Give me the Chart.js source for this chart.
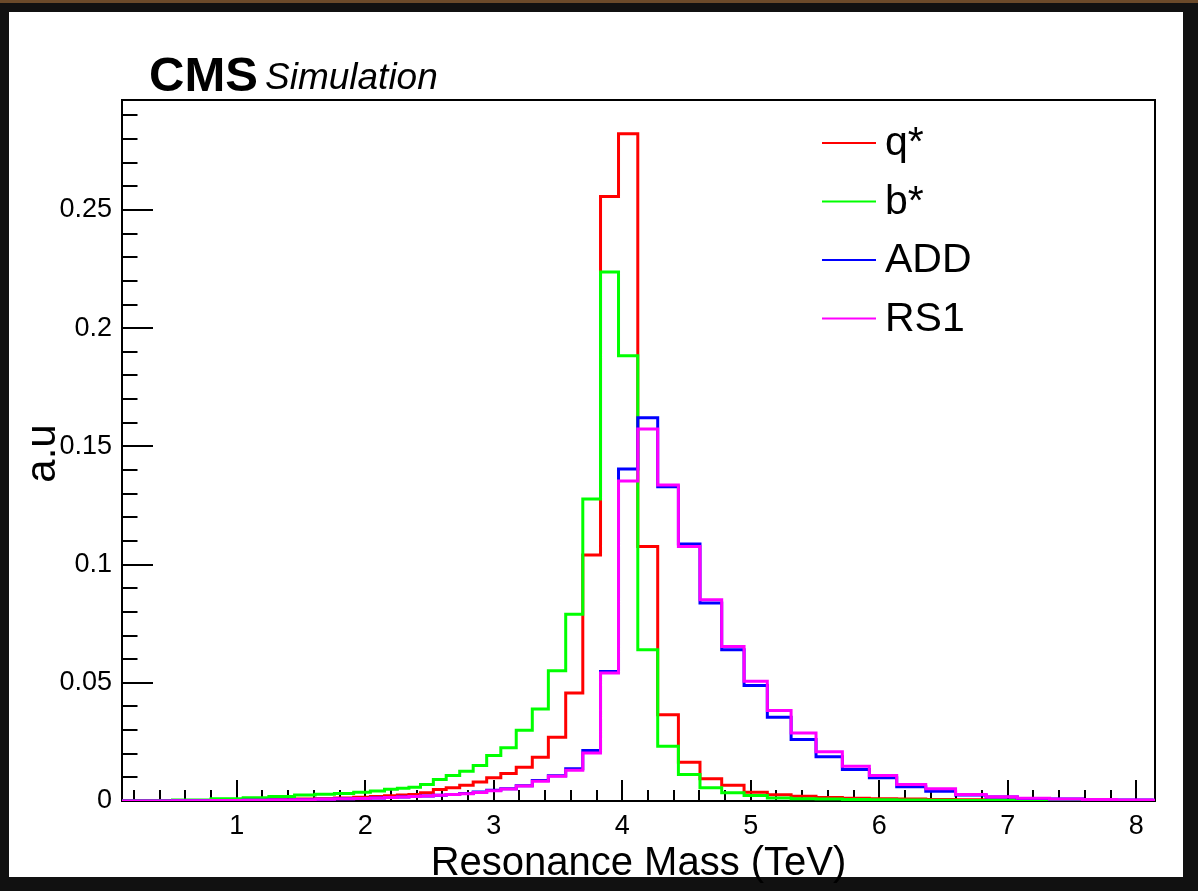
<!DOCTYPE html>
<html>
<head>
<meta charset="utf-8">
<script src="https://cdn.jsdelivr.net/npm/chart.js@4.4.0/dist/chart.umd.min.js"></script>
<style>
html,body{margin:0;padding:0;background:#fff;}
#wrap{position:relative;width:1198px;height:891px;overflow:hidden;}
canvas{display:block;}
</style>
</head>
<body>
<div id="wrap"><canvas id="c" width="1198" height="891"></canvas></div>
<script>
// ---- data (TeV bin edges, normalised contents) ----
const binEdges = [0.107, 0.5, 0.8, 1.05, 1.25, 1.45, 1.61, 1.76, 1.91, 2.04, 2.15, 2.25, 2.34, 2.43,
  2.53, 2.63, 2.735, 2.84, 2.945, 3.055, 3.175, 3.30, 3.425, 3.56, 3.693, 3.831, 3.971, 4.121, 4.276,
  4.437, 4.605, 4.774, 4.948, 5.129, 5.314, 5.508, 5.713, 5.923, 6.136, 6.362, 6.594, 6.832, 7.075,
  7.325, 7.582, 7.846, 8.12, 8.4];

const qStarValues = [0.0000, 0.0001, 0.0002, 0.0003, 0.0005, 0.0008, 0.0010, 0.0013, 0.0016, 0.0019, 0.0022, 0.0025, 0.0028, 0.0035,
  0.0049, 0.0056, 0.0067, 0.0080, 0.0098, 0.0116, 0.0143, 0.0185, 0.0270, 0.0457, 0.1041, 0.2557, 0.2822, 0.1076,
  0.0365, 0.0164, 0.0094, 0.0067, 0.0037, 0.0026, 0.0020, 0.0015, 0.0012, 0.0010, 0.0008, 0.0006, 0.0005, 0.0004,
  0.0003, 0.0002, 0.0002, 0.0001, 0.0001];

const bStarValues = [0.0001, 0.0004, 0.0009, 0.0014, 0.0019, 0.0025, 0.0029, 0.0032, 0.0037, 0.0042, 0.0050, 0.0054, 0.0058, 0.0070,
  0.0091, 0.0108, 0.0126, 0.0150, 0.0192, 0.0225, 0.0299, 0.0389, 0.0551, 0.0790, 0.1277, 0.2237, 0.1883, 0.0640,
  0.0232, 0.0112, 0.0056, 0.0035, 0.0023, 0.0013, 0.0010, 0.0008, 0.0006, 0.0005, 0.0004, 0.0003, 0.0002, 0.0002,
  0.0001, 0.0001, 0.0001, 0.0001, 0.0000];

const addValues = [0.0000, 0.0001, 0.0002, 0.0003, 0.0004, 0.0005, 0.0007, 0.0009, 0.0011, 0.0013, 0.0015, 0.0017, 0.0019, 0.0021,
  0.0024, 0.0028, 0.0032, 0.0038, 0.0045, 0.0052, 0.0065, 0.0087, 0.0107, 0.0136, 0.0214, 0.0548, 0.1404, 0.1621,
  0.1329, 0.1087, 0.0837, 0.0640, 0.0488, 0.0354, 0.0260, 0.0187, 0.0133, 0.0098, 0.0060, 0.0041, 0.0025, 0.0017,
  0.0011, 0.0008, 0.0005, 0.0004, 0.0003];

const rs1Values = [0.0000, 0.0001, 0.0002, 0.0003, 0.0004, 0.0005, 0.0007, 0.0009, 0.0011, 0.0013, 0.0015, 0.0017, 0.0019, 0.0021,
  0.0024, 0.0027, 0.0031, 0.0036, 0.0043, 0.0051, 0.0063, 0.0084, 0.0105, 0.0130, 0.0203, 0.0541, 0.1353, 0.1573,
  0.1337, 0.1076, 0.0851, 0.0654, 0.0506, 0.0383, 0.0288, 0.0208, 0.0147, 0.0108, 0.0070, 0.0052, 0.0027, 0.0018,
  0.0012, 0.0008, 0.0006, 0.0004, 0.0003];

const seriesLabels = ['q*', 'b*', 'ADD', 'RS1'];
const xTickValues = [1, 2, 3, 4, 5, 6, 7, 8];
const yTickValues = [0, 0.05, 0.1, 0.15, 0.2, 0.25];
const xRange = [0.107, 8.146];
const yRange = [0, 0.2965];

// ---- build step outlines from the bin arrays ----
function histPoints(edges, vals) {
  const pts = [];
  for (let i = 0; i < vals.length; i++) {
    pts.push({x: edges[i], y: vals[i]});
    pts.push({x: edges[i + 1], y: vals[i]});
  }
  return pts;
}

const colors = ['#ff0000', '#00ff00', '#0000ff', '#ff00ff'];
const allValues = [qStarValues, bStarValues, addValues, rs1Values];
const FONT = '"Liberation Sans", Arial, Helvetica, sans-serif';

const datasets = allValues.map((v, i) => ({
  label: seriesLabels[i],
  data: histPoints(binEdges, v),
  borderColor: colors[i],
  backgroundColor: colors[i],
  borderWidth: 3,
  pointRadius: 0,
  tension: 0,
  fill: false,
  borderJoinStyle: 'miter',
  borderCapStyle: 'butt',
  order: 4 - i
}));

const rootPlugin = {
  id: 'rootStyle',
  beforeDraw(chart) {
    const ctx = chart.ctx;
    ctx.save();
    ctx.fillStyle = '#ffffff';
    ctx.fillRect(0, 0, chart.width, chart.height);
    // dark picture border
    ctx.fillStyle = '#111111';
    ctx.fillRect(0, 0, chart.width, 12);
    ctx.fillRect(0, chart.height - 14, chart.width, 14);
    ctx.fillRect(0, 0, 9, chart.height);
    ctx.fillRect(chart.width - 15, 0, 15, chart.height);
    ctx.fillStyle = '#6b4a2a';
    ctx.fillRect(0, 0, chart.width, 3);
    ctx.restore();
  },
  beforeDatasetsDraw(chart) {
    const ctx = chart.ctx, a = chart.chartArea;
    const xs = chart.scales.x, ys = chart.scales.y;
    ctx.save();
    ctx.strokeStyle = '#000';
    ctx.lineWidth = 2;
    ctx.strokeRect(a.left, a.top, a.right - a.left, a.bottom - a.top);
    // x ticks (inside), minor every 0.2
    ctx.beginPath();
    for (let k = 1; k * 0.2 <= xRange[1]; k++) {
      const v = k * 0.2;
      if (v < xRange[0]) continue;
      const px = Math.round(xs.getPixelForValue(v));
      const len = (k % 5 === 0) ? 21 : 11;
      ctx.moveTo(px, a.bottom);
      ctx.lineTo(px, a.bottom - len);
    }
    // y ticks (inside), minor every 0.01
    for (let k = 0; k * 0.01 <= yRange[1]; k++) {
      const py = Math.round(ys.getPixelForValue(k * 0.01));
      const len = (k % 5 === 0) ? 31 : 15.5;
      ctx.moveTo(a.left, py);
      ctx.lineTo(a.left + len, py);
    }
    ctx.stroke();
    ctx.restore();
  },
  afterDraw(chart) {
    const ctx = chart.ctx, a = chart.chartArea;
    ctx.save();
    ctx.fillStyle = '#000';
    ctx.textBaseline = 'alphabetic';
    ctx.textAlign = 'left';
    ctx.font = 'bold 49px ' + FONT;
    ctx.fillText('CMS', 149, 91);
    ctx.font = 'italic 37px ' + FONT;
    ctx.fillText('Simulation', 265, 89);
    // axis titles
    ctx.font = '40px ' + FONT;
    ctx.textAlign = 'center';
    ctx.fillText('Resonance Mass (TeV)', (a.left + a.right) / 2, 875);
    ctx.save();
    ctx.translate(55, (a.top + a.bottom) / 2 + 3);
    ctx.rotate(-Math.PI / 2);
    ctx.font = '42px ' + FONT;
    ctx.fillText('a.u', 0, 0);
    ctx.restore();
    // legend
    ctx.textAlign = 'left';
    ctx.font = '41px ' + FONT;
    chart.data.datasets.forEach((ds, i) => {
      const y = 143 + i * 58.5;
      ctx.strokeStyle = ds.borderColor;
      ctx.lineWidth = 2;
      ctx.beginPath();
      ctx.moveTo(822, y);
      ctx.lineTo(876, y);
      ctx.stroke();
      ctx.fillStyle = '#000';
      ctx.fillText(ds.label, 885, y + 12);
    });
    ctx.restore();
  }
};

new Chart(document.getElementById('c'), {
  type: 'line',
  data: { datasets },
  options: {
    responsive: false,
    animation: false,
    devicePixelRatio: 1,
    layout: { padding: { left: 0, top: 100, right: 43, bottom: 0 } },
    plugins: { legend: { display: false }, tooltip: { enabled: false } },
    scales: {
      x: {
        type: 'linear',
        min: xRange[0],
        max: xRange[1],
        afterBuildTicks: (s) => { s.ticks = xTickValues.map(v => ({ value: v })); },
        afterFit: (s) => { s.height = 90; },
        grid: { display: false, drawTicks: false },
        border: { display: false },
        ticks: {
          autoSkip: false,
          maxRotation: 0,
          padding: 9,
          color: '#000',
          font: { family: FONT, size: 27 },
          callback: (v) => String(v)
        }
      },
      y: {
        type: 'linear',
        min: yRange[0],
        max: yRange[1],
        afterBuildTicks: (s) => { s.ticks = yTickValues.map(v => ({ value: v })); },
        afterFit: (s) => { s.width = 122; },
        grid: { display: false, drawTicks: false },
        border: { display: false },
        ticks: {
          autoSkip: false,
          padding: 10,
          color: '#000',
          font: { family: FONT, size: 27 },
          callback: (v) => String(+v.toFixed(2))
        }
      }
    }
  },
  plugins: [rootPlugin]
});
</script>
</body>
</html>
